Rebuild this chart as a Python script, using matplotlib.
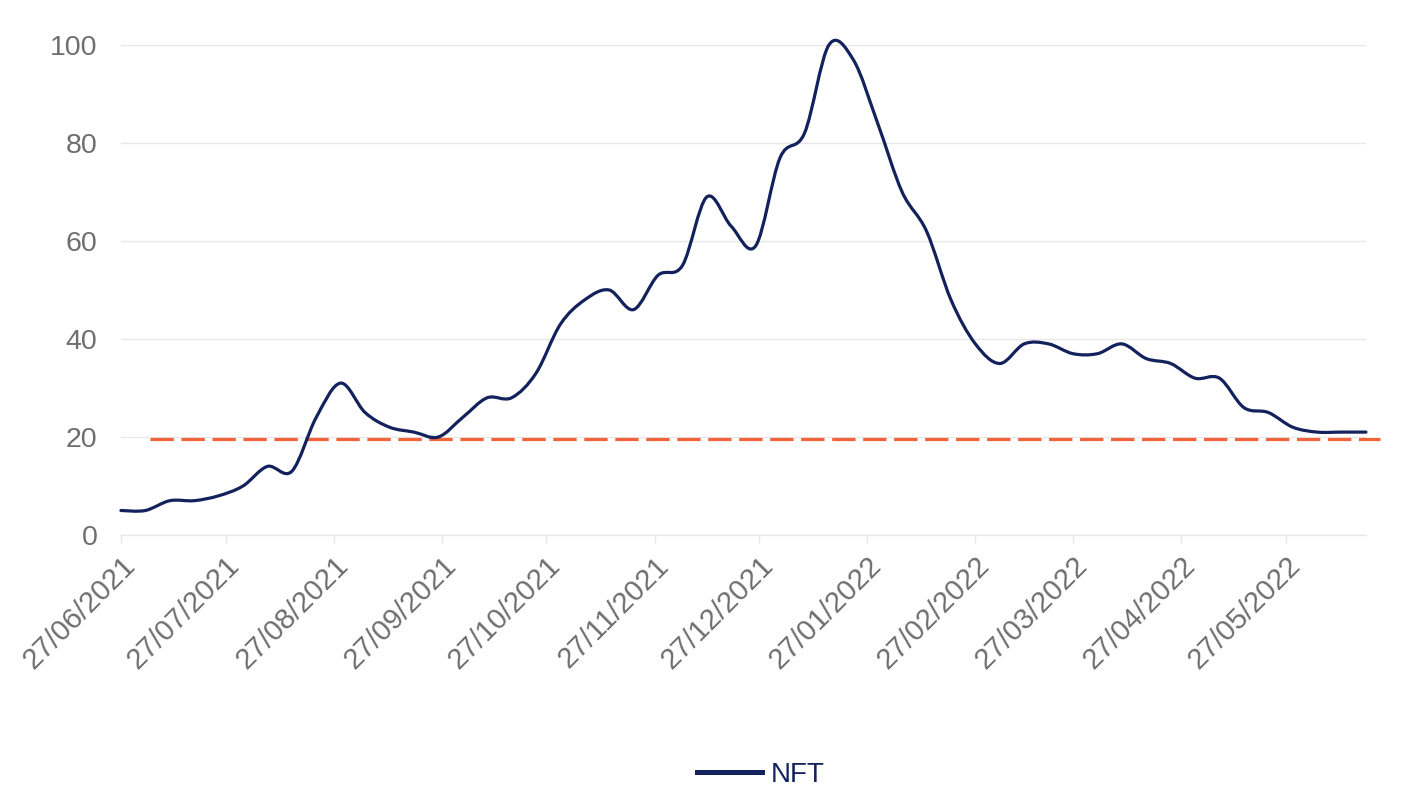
import numpy as np
import pandas as pd
import matplotlib
matplotlib.use("Agg")
import matplotlib.pyplot as plt
import matplotlib.dates as mdates
from matplotlib.path import Path
from matplotlib.patches import PathPatch
from matplotlib.lines import Line2D
from matplotlib.transforms import ScaledTranslation

plt.rcParams['font.family'] = ['Liberation Sans', 'DejaVu Sans']

# weekly interest, 27/06/2021 .. 19/06/2022
week_start = "2021-06-27"
nft = [5, 5, 7, 7, 8, 10, 14, 13, 24, 31,
       25, 22, 21, 20, 24, 28, 28, 33, 43, 48,
       50, 46, 53, 55, 69, 63, 59, 77, 82, 100,
       97, 84, 70, 62, 48, 39, 35, 39, 39, 37,
       37, 39, 36, 35, 32, 32, 26, 25, 22, 21,
       21, 21]
threshold = 19.5
tick_dates = ["27/06/2021", "27/07/2021", "27/08/2021", "27/09/2021",
              "27/10/2021", "27/11/2021", "27/12/2021", "27/01/2022",
              "27/02/2022", "27/03/2022", "27/04/2022", "27/05/2022"]
y_ticks = [0, 20, 40, 60, 80, 100]

NAVY = '#13215c'
RED = '#f4623a'
GRID = '#e8e8e8'
LABEL = '#6e6e6e'

dates = pd.date_range(week_start, periods=len(nft), freq='7D')
xs = mdates.date2num(dates)
ys = np.array(nft, dtype=float)


def smooth_path(x, y):
    # catmull-rom through the points, written as cubic bezier segments
    px = np.concatenate([[x[0]], x, [x[-1]]])
    py = np.concatenate([[y[0]], y, [y[-1]]])
    verts = [(x[0], y[0])]
    codes = [Path.MOVETO]
    for i in range(1, len(px) - 2):
        c1 = (px[i] + (px[i + 1] - px[i - 1]) / 6, py[i] + (py[i + 1] - py[i - 1]) / 6)
        c2 = (px[i + 1] - (px[i + 2] - px[i]) / 6, py[i + 1] - (py[i + 2] - py[i]) / 6)
        verts += [c1, c2, (px[i + 1], py[i + 1])]
        codes += [Path.CURVE4] * 3
    return Path(verts, codes)


fig = plt.figure(figsize=(14.03, 8.01), dpi=100)
ax = fig.add_axes([0.0862, 0.3321, 0.8874, 0.6117])

ax.set_xlim(xs[0], xs[-1])
ax.set_ylim(0, 100)

ax.set_yticks(y_ticks)
ax.grid(axis='y', color=GRID, linewidth=1.0)
ax.set_axisbelow(True)

ticks = mdates.date2num(pd.to_datetime(tick_dates, format="%d/%m/%Y"))
ax.set_xticks(ticks)
ax.set_xticklabels(tick_dates, rotation=45, ha='right', rotation_mode='anchor')
shift = ScaledTranslation(-6 / 100, 0, fig.dpi_scale_trans)
for lab in ax.get_xticklabels():
    lab.set_transform(lab.get_transform() + shift)

for s in ['top', 'right', 'left']:
    ax.spines[s].set_visible(False)
ax.spines['bottom'].set_color(GRID)
ax.spines['bottom'].set_linewidth(1.0)

ax.tick_params(axis='y', length=0, pad=17, labelsize=20.5, labelcolor=LABEL)
ax.tick_params(axis='x', length=6, width=1.0, color=GRID, pad=6,
               labelsize=21, labelcolor=LABEL)

ax.axhline(threshold, xmin=0.0233, xmax=1.011, color=RED, linewidth=2.3,
           dashes=(7.3, 2.4), clip_on=False, zorder=2)

ax.add_patch(PathPatch(smooth_path(xs, ys), fill=False, edgecolor=NAVY,
                       linewidth=2.3, capstyle='round', joinstyle='round',
                       clip_on=False, zorder=3))

handle = Line2D([], [], color=NAVY, linewidth=3.6)
leg = fig.legend([handle], ['NFT'], loc='center', bbox_to_anchor=(0.542, 0.033),
                 frameon=False, fontsize=20, handlelength=2.35, handletextpad=0.3)
for t in leg.get_texts():
    t.set_color(NAVY)

fig.savefig('out.png', dpi=100)
